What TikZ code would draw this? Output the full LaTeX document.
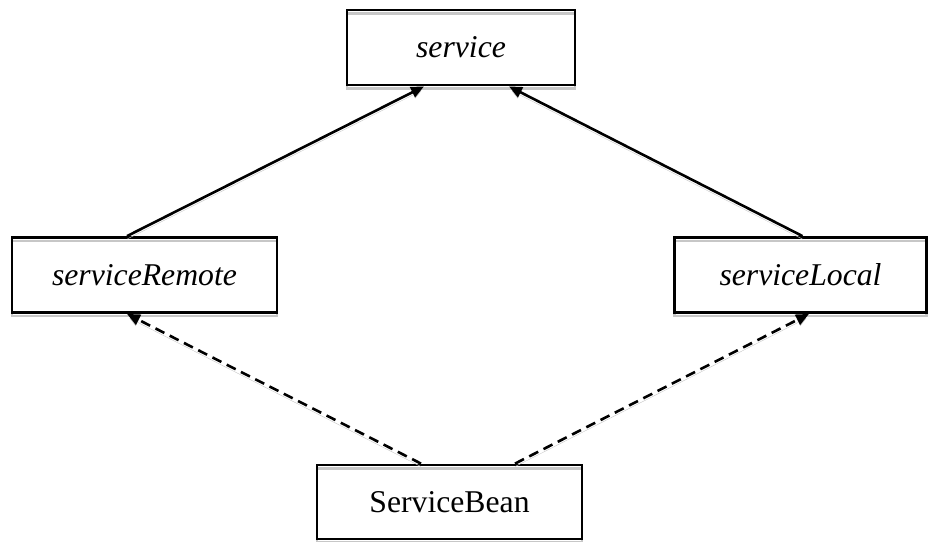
\documentclass[tikz,border=0pt]{standalone}
\usepackage{fontspec}
\setmainfont{Liberation Serif}
\usetikzlibrary{arrows.meta}
\begin{document}
\begin{tikzpicture}[x=1pt, y=-1pt,
    sinif/.style={draw, line width=2.8pt, inner sep=0pt, minimum height=75pt,
      font=\fontsize{31.7}{36}\selectfont,
      preaction={draw=black!22, line width=2.5pt, transform canvas={yshift=-3.5pt}}},
    kalitim/.style={line width=2.6pt, -{Triangle[length=13pt,width=11pt]},
      preaction={draw=black!22, transform canvas={yshift=-3pt}}},
    gercekleme/.style={kalitim, dash pattern=on 10pt off 6pt}]
    % Sayfa sınırı
    \useasboundingbox (0,0) rectangle (929,541);
    % Sınıflar
    \node[sinif, minimum width=228pt] (service) at (461,47.5) {\itshape service};
    \node[sinif, minimum width=265pt] (remote) at (144.5,275) {\itshape serviceRemote};
    \node[sinif, minimum width=252pt] (local) at (800.5,275) {\itshape serviceLocal};
    \node[sinif, minimum width=265pt, minimum height=74pt] (bean) at (449.5,502) {ServiceBean};
    % Arayüz kalıtımı
    \draw[kalitim] ([xshift=-17.5pt]remote.north) -- ([xshift=-37pt]service.south);
    \draw[kalitim] ([xshift=2pt]local.north) -- ([xshift=48pt]service.south);
    % Gerçekleme
    \draw[gercekleme] ([xshift=-28.5pt]bean.north) -- ([xshift=-17.5pt]remote.south);
    \draw[gercekleme] ([xshift=65.5pt]bean.north) -- ([xshift=8.5pt]local.south);
\end{tikzpicture}
\end{document}
